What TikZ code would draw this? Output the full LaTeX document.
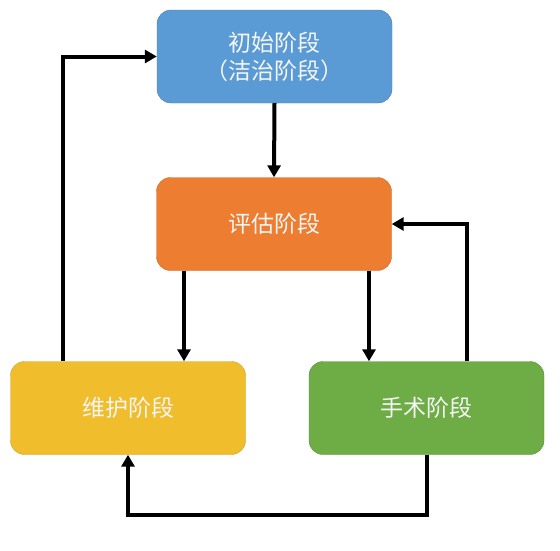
\documentclass[tikz,border=0pt]{standalone}
\usepackage{fontspec}
\newfontfamily\cjk{Noto Sans CJK SC}
\usetikzlibrary{arrows.meta}
\definecolor{cblue}{HTML}{5B9BD5}
\definecolor{corange}{HTML}{ED7D31}
\definecolor{cyellow}{HTML}{F0BD2C}
\definecolor{cgreen}{HTML}{6EAC46}
\tikzset{
  stage/.style={rounded corners=14pt, minimum width=235pt, minimum height=93pt,
    inner sep=0pt, align=center, text=white!92!gray, font=\cjk\fontsize{23pt}{28pt}\selectfont},
  conn/.style={line width=4pt, -{Triangle[length=12pt,width=13pt]}}
}
\begin{document}
\begin{tikzpicture}[x=1pt,y=-1pt]
\useasboundingbox (0,0) rectangle (560,550);
\node[stage, fill=cblue, draw=cblue!80!black] (init) at (274.5,56.5) {初始阶段\\（洁治阶段）};
\node[stage, fill=corange, draw=corange!85!black] (eval) at (274,224) {评估阶段};
\node[stage, fill=cyellow, draw=cyellow!85!black] (maint) at (128,408) {维护阶段};
\node[stage, fill=cgreen, draw=cgreen!85!black] (surg) at (426.5,408) {手术阶段};
\draw[conn] (init.south) -- (eval.north);
\draw[conn] (eval.south -| 184,0) -- (maint.north -| 184,0);
\draw[conn] (eval.south -| 369,0) -- (surg.north -| 369,0);
\draw[conn] (surg.north -| 467,0) |- (eval.east);
\draw[conn] (maint.north -| 63,0) |- (init.west);
\coordinate (bl) at (128,515);
\draw[conn] (surg.south) |- (bl) -- (maint.south);
\end{tikzpicture}
\end{document}
